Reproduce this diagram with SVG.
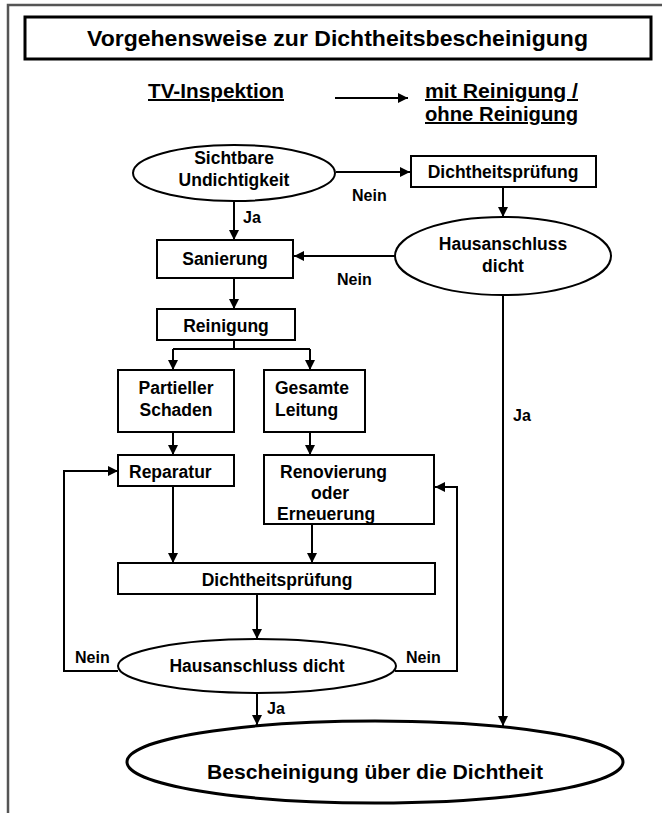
<svg xmlns="http://www.w3.org/2000/svg" width="662" height="813" viewBox="0 0 662 813">
<defs>
<marker id="ah" markerWidth="10" markerHeight="10" refX="10" refY="5" orient="auto" markerUnits="userSpaceOnUse">
<path d="M0,0 L10,5 L0,10 Z" fill="#000"/>
</marker>
<style>
.t{font-family:"Liberation Sans",Arial,sans-serif;font-weight:bold;fill:#000;}
.m{font-size:17.5px;}
.l{font-size:16px;}
.n{fill:#fff;stroke:#000;stroke-width:2;}
.c{fill:none;stroke:#000;stroke-width:2;}
.ca{fill:none;stroke:#000;stroke-width:2;marker-end:url(#ah);}
</style>
</defs>
<rect width="662" height="813" fill="#fff"/>
<path d="M8,813 L8,5 L662,5" fill="none" stroke="#555" stroke-width="2.5"/>
<g id="title">
<rect x="25" y="17" width="626" height="42" fill="#fff" stroke="#000" stroke-width="3"/>
<text class="t" x="87" y="46" font-size="22.5" textLength="501" lengthAdjust="spacingAndGlyphs">Vorgehensweise zur Dichtheitsbescheinigung</text>
</g>
<g id="legend">
<text class="t" x="148" y="98" font-size="20" textLength="136" lengthAdjust="spacingAndGlyphs" text-decoration="underline">TV-Inspektion</text>
<text class="t" x="425" y="98" font-size="20" textLength="153" lengthAdjust="spacingAndGlyphs" text-decoration="underline">mit Reinigung /</text>
<text class="t" x="425" y="121" font-size="20" textLength="153" lengthAdjust="spacingAndGlyphs" text-decoration="underline">ohne Reinigung</text>
</g>
<g id="connectors">
<line class="ca" x1="335" y1="98" x2="408" y2="98"/>
<line class="ca" x1="336" y1="172" x2="410" y2="172"/>
<line class="ca" x1="234" y1="201" x2="234" y2="240"/>
<line class="ca" x1="503" y1="187" x2="503" y2="217"/>
<line class="ca" x1="395" y1="256" x2="294" y2="256"/>
<line class="ca" x1="234" y1="278" x2="234" y2="309"/>
<path class="c" d="M234,340 V349 M173,349 H310"/>
<line class="ca" x1="173" y1="349" x2="173" y2="370"/>
<line class="ca" x1="310" y1="349" x2="310" y2="370"/>
<line class="ca" x1="173" y1="432" x2="173" y2="455"/>
<line class="ca" x1="310" y1="432" x2="310" y2="455"/>
<line class="ca" x1="173" y1="486" x2="173" y2="563"/>
<line class="ca" x1="312" y1="524" x2="312" y2="563"/>
<line class="ca" x1="257" y1="594" x2="257" y2="639"/>
<polyline class="ca" points="118,671 64,671 64,471 118,471"/>
<polyline class="ca" points="395,671 457,671 457,487 435,487"/>
<line class="ca" x1="257" y1="693" x2="257" y2="725"/>
<line class="ca" x1="503" y1="295" x2="503" y2="726"/>
<text class="t l" x="352" y="201">Nein</text>
<text class="t l" x="243" y="223">Ja</text>
<text class="t l" x="337" y="285">Nein</text>
<text class="t l" x="513" y="421">Ja</text>
<text class="t l" x="75" y="663">Nein</text>
<text class="t l" x="406" y="663">Nein</text>
<text class="t l" x="267" y="714">Ja</text>
</g>
<g id="sichtbare">
<ellipse class="n" cx="234" cy="173" rx="101" ry="28"/>
<text class="t m" x="234" y="164" text-anchor="middle">Sichtbare</text>
<text class="t m" x="234" y="186" text-anchor="middle">Undichtigkeit</text>
</g>
<g id="dicht1">
<rect class="n" x="411" y="156" width="185" height="31"/>
<text class="t m" x="503" y="178" text-anchor="middle">Dichtheitsprüfung</text>
</g>
<g id="haus1">
<ellipse class="n" cx="503" cy="256" rx="108" ry="39"/>
<text class="t m" x="503" y="250" text-anchor="middle">Hausanschluss</text>
<text class="t m" x="503" y="272" text-anchor="middle">dicht</text>
</g>
<g id="sanierung">
<rect class="n" x="157" y="240" width="136" height="38"/>
<text class="t m" x="225" y="265" text-anchor="middle">Sanierung</text>
</g>
<g id="reinigung">
<rect class="n" x="157" y="309" width="138" height="31"/>
<text class="t m" x="226" y="332" text-anchor="middle">Reinigung</text>
</g>
<g id="partiell">
<rect class="n" x="118" y="370" width="116" height="62"/>
<text class="t m" x="176" y="394" text-anchor="middle">Partieller</text>
<text class="t m" x="176" y="416" text-anchor="middle">Schaden</text>
</g>
<g id="gesamt">
<rect class="n" x="264" y="370" width="101" height="62"/>
<text class="t m" x="275" y="394">Gesamte</text>
<text class="t m" x="275" y="416">Leitung</text>
</g>
<g id="reparatur">
<rect class="n" x="118" y="455" width="116" height="31"/>
<text class="t m" x="129" y="478">Reparatur</text>
</g>
<g id="renovierung">
<rect class="n" x="264" y="455" width="170" height="69"/>
<text class="t m" x="280" y="478">Renovierung</text>
<text class="t m" x="330" y="499" text-anchor="middle">oder</text>
<text class="t m" x="277" y="520">Erneuerung</text>
</g>
<g id="dicht2">
<rect class="n" x="118" y="563" width="317" height="31"/>
<text class="t m" x="277" y="586" text-anchor="middle">Dichtheitsprüfung</text>
</g>
<g id="haus2">
<ellipse class="n" cx="257" cy="666" rx="139" ry="27"/>
<text class="t m" x="257" y="672" text-anchor="middle">Hausanschluss dicht</text>
</g>
<g id="bescheinigung">
<ellipse cx="375" cy="762" rx="248" ry="41" fill="#fff" stroke="#000" stroke-width="3"/>
<text class="t" x="207" y="779" font-size="20" textLength="336" lengthAdjust="spacingAndGlyphs">Bescheinigung über die Dichtheit</text>
</g>
</svg>
